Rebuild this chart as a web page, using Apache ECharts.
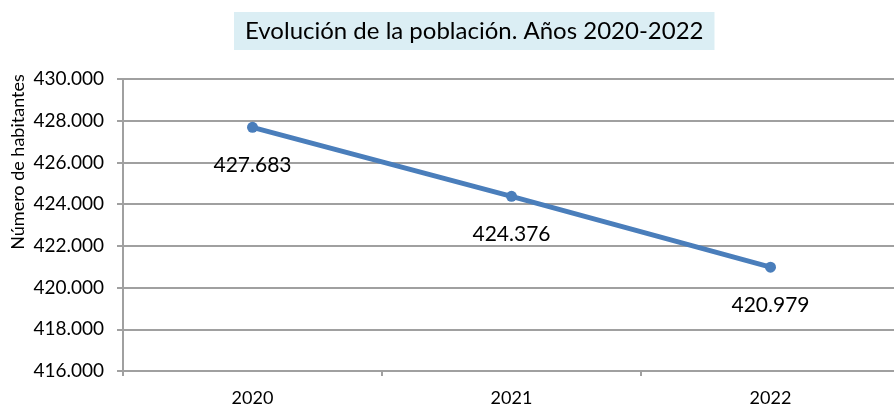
<!DOCTYPE html>
<html>
<head>
<meta charset="utf-8">
<script src="https://cdn.jsdelivr.net/npm/echarts@6/dist/echarts.min.js"></script>
<style>html,body{margin:0;padding:0;background:#fff;overflow:hidden;width:894px;height:407px}#c{width:902px;height:407px}</style>
</head>
<body>
<div id="c"></div>
<script>
const categories = ['2020', '2021', '2022'];
const population = [427683, 424376, 420979];
const titleText = 'Evolución de la población. Años 2020-2022';
const yAxisName = 'Número de habitantes';

function fmt(v) {
  return String(Math.round(v)).replace(/\B(?=(\d{3})+(?!\d))/g, '.');
}

const chart = echarts.init(document.getElementById('c'));
const font = 'Lato, "Open Sans", sans-serif';
chart.setOption({
  animation: false,
  title: {
    text: titleText,
    left: 234,
    top: 12,
    padding: [7, 11, 7, 11],
    backgroundColor: '#DBEEF4',
    textStyle: { fontFamily: font, fontSize: 24, fontWeight: 'normal', color: '#000' }
  },
  graphic: [{
    type: 'text',
    x: 18,
    y: 162,
    rotation: Math.PI / 2,
    style: {
      text: yAxisName,
      fontFamily: font,
      fontSize: 18,
      fill: '#000',
      align: 'center',
      verticalAlign: 'middle'
    }
  }],
  grid: { left: 123, right: 2, top: 79, bottom: 36 },
  xAxis: {
    type: 'category',
    data: categories,
    boundaryGap: true,
    axisLine: { lineStyle: { color: '#A0A0A0', width: 2 } },
    axisTick: { show: true, length: 5, lineStyle: { color: '#A0A0A0', width: 2 } },
    axisLabel: { fontFamily: font, fontSize: 18, color: '#000', margin: 18 }
  },
  yAxis: {
    type: 'value',
    min: 416000,
    max: 430000,
    interval: 2000,
    axisLine: { show: true, lineStyle: { color: '#A0A0A0', width: 2 } },
    axisTick: { show: true, length: 6, lineStyle: { color: '#A0A0A0', width: 2 } },
    splitLine: { lineStyle: { color: '#A0A0A0', width: 2 } },
    axisLabel: { fontFamily: font, fontSize: 19, color: '#000', margin: 19, formatter: fmt }
  },
  series: [{
    type: 'line',
    data: population,
    symbol: 'circle',
    symbolSize: 11,
    lineStyle: { color: '#4A7EBB', width: 5 },
    itemStyle: { color: '#4A7EBB' },
    label: {
      show: true,
      position: 'bottom',
      distance: 22,
      fontFamily: font,
      fontSize: 21,
      color: '#000',
      formatter: p => fmt(p.value)
    }
  }]
});
</script>
</body>
</html>
